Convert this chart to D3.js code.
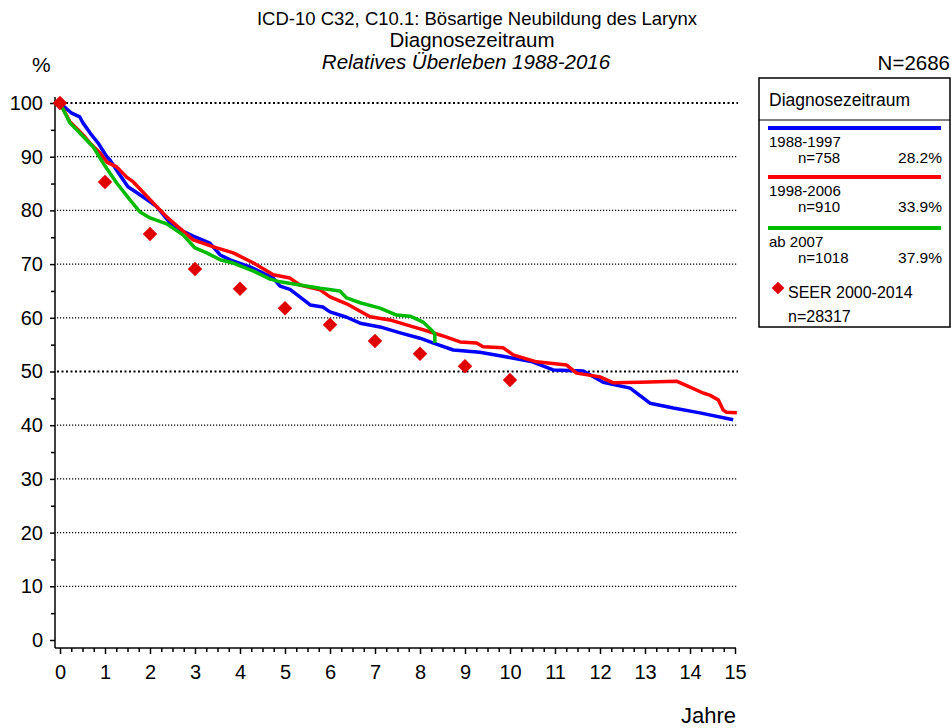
<!DOCTYPE html>
<html><head><meta charset="utf-8">
<script src="https://cdn.jsdelivr.net/npm/d3@7/dist/d3.min.js"></script>
<style>
body{margin:0;background:#fff}
svg text{font-family:"Liberation Sans",Arial,sans-serif;fill:#000}
</style>
</head><body><svg id="c" width="951" height="728"></svg>
<script>
// ---- data ----
const titleLines = ["ICD-10 C32, C10.1: Bösartige Neubildung des Larynx", "Diagnosezeitraum", "Relatives Überleben 1988-2016"];
const xTicks = [0,1,2,3,4,5,6,7,8,9,10,11,12,13,14,15];
const yTicks = [0,10,20,30,40,50,60,70,80,90,100];
const seriesNames = ["1988-1997", "1998-2006", "ab 2007"];
const seriesN = ["n=758", "n=910", "n=1018"];
const seriesPct = ["28.2%", "33.9%", "37.9%"];
const seriesColors = ["#0000ff", "#ff0000", "#00bb00"];

const blueT = [0,0.26,0.44,0.51,0.67,0.85,1.04,1.11,1.33,1.51,1.85,2.15,2.52,2.67,2.96,3.33,3.56,3.78,4.22,4.74,4.89,5.11,5.33,5.56,5.84,6.0,6.37,6.67,7.11,7.56,8.0,8.3,8.74,9.33,9.93,10.5,10.96,11.63,12.07,12.67,13.11,13.63,14.22,14.96];
const blueV = [100,98.1,97.4,96.3,94.4,92.5,90.0,89.4,86.6,84.4,82.5,80.7,76.9,76.4,75.2,73.9,71.7,70.8,69.5,67.4,65.9,65.3,63.9,62.4,62.0,61.1,60.1,59.0,58.3,57.2,56.2,55.3,54.0,53.6,52.7,51.8,50.3,50.1,48.0,46.9,44.1,43.2,42.3,41.0];

const redT = [0,0.22,0.52,0.67,0.89,1.04,1.26,1.48,1.63,2.07,2.37,2.52,2.96,3.41,3.85,4.3,4.74,5.11,5.33,5.78,6.0,6.37,6.89,7.33,7.85,8.22,8.59,8.89,9.26,9.4,9.85,10.07,10.59,11.26,11.48,12.0,12.3,12.89,13.7,14.0,14.29,14.44,14.63,14.74,14.81,15.04];
const redV = [100,96.5,94.0,92.5,90.7,89.0,88.1,86.2,85.3,81.4,78.8,77.7,74.5,73.2,72.1,70.2,68.0,67.4,66.1,65.2,63.9,62.6,60.2,59.6,58.3,57.4,56.4,55.5,55.3,54.6,54.4,53.1,51.8,51.2,49.7,49.0,47.9,48.0,48.2,47.1,46.0,45.6,44.7,42.8,42.4,42.3];

const greenT = [0,0.22,0.44,0.74,0.96,1.26,1.56,1.78,2.0,2.37,2.74,3.0,3.26,3.56,3.85,4.3,4.67,4.89,5.33,5.78,6.22,6.37,6.67,7.11,7.48,7.78,8.07,8.26,8.33,8.33];
const greenV = [100,96.3,94.4,91.8,88.8,85.1,81.9,79.7,78.6,77.5,75.4,73.0,72.1,70.8,70.2,68.7,67.2,66.7,66.1,65.5,65.0,63.7,62.8,61.8,60.5,60.3,59.2,57.7,57.0,55.3];

const seerLabel = "SEER 2000-2014";
const seerN = "n=28317";
const seerT = [0,1,2,3,4,5,6,7,8,9,10];
const seerV = [100,85.3,75.6,69.1,65.4,61.8,58.7,55.7,53.3,51.0,48.4];

// ---- drawing ----
const svg = d3.select("#c");
const x = d3.scaleLinear().domain([0,15]).range([60,735]);
const y = d3.scaleLinear().domain([0,100]).range([640,103]);

// titles
svg.append("text").attr("x",477).attr("y",25).attr("text-anchor","middle").style("font-size","18.5px").text(titleLines[0]);
svg.append("text").attr("x",472).attr("y",47).attr("text-anchor","middle").style("font-size","20.5px").text(titleLines[1]);
svg.append("text").attr("x",466).attr("y",69).attr("text-anchor","middle").style("font-size","20.5px").style("font-style","italic").text(titleLines[2]);
svg.append("text").attr("x",32).attr("y",72).style("font-size","21px").text("%");
svg.append("text").attr("x",950).attr("y",70).attr("text-anchor","end").style("font-size","20.5px").text("N=2686");

// gridlines
const grid = svg.append("g");
yTicks.filter(v=>v>0).forEach(v=>{
  const bold = (v===100||v===50);
  grid.append("line").attr("x1",57).attr("x2",738).attr("y1",y(v)).attr("y2",y(v))
    .attr("stroke","#000").attr("stroke-width",bold?2.2:1.2)
    .attr("stroke-dasharray",bold?"2,2.5":"1.2,1.8");
});

// y axis
const yAxis = svg.append("g").attr("transform","translate(55,0)")
  .call(d3.axisLeft(y).tickValues(yTicks).tickSize(5).tickPadding(7).tickSizeOuter(0));
yAxis.select(".domain").remove();
yAxis.selectAll("text").style("font-size","20px").style("font-family","Liberation Sans, Arial, sans-serif");
const yMinor = svg.append("g").attr("transform","translate(55,0)")
  .call(d3.axisLeft(y).tickValues(d3.range(5,100,10)).tickSize(4).tickFormat(""));
yMinor.select(".domain").remove();
svg.append("line").attr("x1",55).attr("x2",55).attr("y1",97).attr("y2",648).attr("stroke","#000").attr("stroke-width",1.5);

// x axis
const xAxis = svg.append("g").attr("transform","translate(0,648)")
  .call(d3.axisBottom(x).tickValues(xTicks).tickSize(6).tickPadding(11).tickSizeOuter(0));
xAxis.select(".domain").remove();
xAxis.selectAll("text").style("font-size","20px").style("font-family","Liberation Sans, Arial, sans-serif");
const xMinor = svg.append("g").attr("transform","translate(0,648)")
  .call(d3.axisBottom(x).tickValues(d3.range(0,15.01,0.25).filter(v=>v%1!==0)).tickSize(4).tickFormat(""));
xMinor.select(".domain").remove();
svg.append("line").attr("x1",55).attr("x2",736).attr("y1",648).attr("y2",648).attr("stroke","#000").attr("stroke-width",1.5);
svg.selectAll(".tick line").attr("stroke-width",1.5);
svg.append("text").attr("x",736).attr("y",723).attr("text-anchor","end").style("font-size","22px").text("Jahre");

// lines
const line = d3.line().x(d=>x(d[0])).y(d=>y(d[1]));
const series = [d3.zip(blueT,blueV), d3.zip(redT,redV), d3.zip(greenT,greenV)];
[0,1,2].forEach(i=>{
  svg.append("path").datum(series[i]).attr("d",line).attr("fill","none")
    .attr("stroke",seriesColors[i]).attr("stroke-width",3.5).attr("stroke-linejoin","round");
});

// SEER diamonds
const diamond = d3.symbol().type(d3.symbolSquare).size(105);
svg.append("g").selectAll("path").data(d3.zip(seerT,seerV)).join("path")
  .attr("d",diamond).attr("fill","#e00000")
  .attr("transform",d=>`translate(${x(d[0])},${y(d[1])}) rotate(45)`);

// legend
const lg = svg.append("g");
lg.append("rect").attr("x",759).attr("y",78).attr("width",191).attr("height",249).attr("fill","none").attr("stroke","#000").attr("stroke-width",1.5);
lg.append("line").attr("x1",759).attr("x2",950).attr("y1",120).attr("y2",120).attr("stroke","#000").attr("stroke-width",1);
lg.append("text").attr("x",769).attr("y",106).style("font-size","17.5px").text("Diagnosezeitraum");
const lineYs = [128,177,228];
[0,1,2].forEach(i=>{
  const ly = lineYs[i];
  lg.append("line").attr("x1",768).attr("x2",941).attr("y1",ly).attr("y2",ly).attr("stroke",seriesColors[i]).attr("stroke-width",4);
  lg.append("text").attr("x",769).attr("y",ly+19).style("font-size","15px").text(seriesNames[i]);
  lg.append("text").attr("x",798).attr("y",ly+35).style("font-size","15px").text(seriesN[i]);
  lg.append("text").attr("x",942).attr("y",ly+35).attr("text-anchor","end").style("font-size","15.5px").text(seriesPct[i]);
});
lg.append("path").attr("d",d3.symbol().type(d3.symbolSquare).size(80)).attr("fill","#e00000").attr("transform","translate(778,288) rotate(45)");
lg.append("text").attr("x",788).attr("y",298).style("font-size","16px").text(seerLabel);
lg.append("text").attr("x",788).attr("y",322).style("font-size","16px").text(seerN);
</script>
</body></html>
